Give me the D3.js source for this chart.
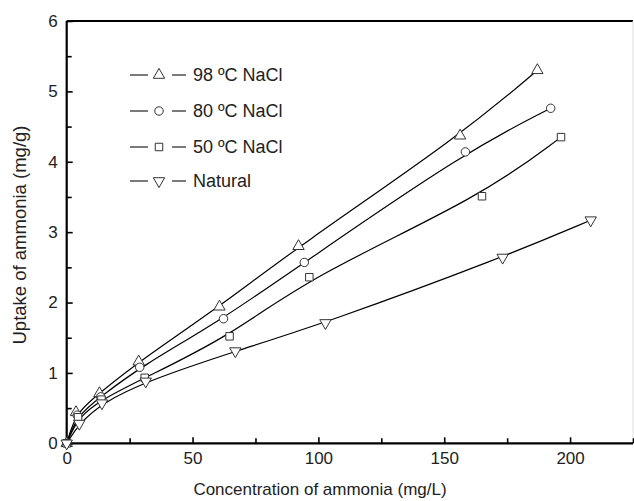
<!DOCTYPE html>
<html><head><meta charset="utf-8">
<script src="https://cdn.jsdelivr.net/npm/d3@7/dist/d3.min.js"></script>
<style>body{margin:0;background:#fff}svg{display:block}text{font-family:"Liberation Sans",Arial,sans-serif;fill:#222}</style>
</head><body><svg id="c" width="634" height="501"></svg>
<script>
const seriesNames = ["98 ºC NaCl","80 ºC NaCl","50 ºC NaCl","Natural"];
const seriesSymbols = ["triangle","circle","square","triangleDown"];
const s98 = [[0,0],[3.7,0.44],[13,0.71],[28.6,1.16],[60.7,1.94],[92.1,2.80],[156.3,4.37],[187,5.30]];
const s80 = [[0,0],[4.2,0.40],[13.5,0.66],[29,1.08],[62.3,1.77],[94.4,2.57],[158.4,4.14],[192.3,4.76]];
const s50 = [[0,0],[4.5,0.37],[13.8,0.62],[31,0.93],[64.7,1.52],[96.4,2.36],[165,3.51],[196.4,4.35]];
const sNat = [[0,0],[5,0.28],[14,0.57],[31.4,0.88],[67,1.31],[102.8,1.71],[173.2,2.64],[208.2,3.17]];
const xTickLabels = [0,50,100,150,200];
const yTickLabels = [0,1,2,3,4,5,6];
const xTitle = "Concentration of ammonia (mg/L)";
const yTitle = "Uptake of ammonia (mg/g)";

const allSeries = [s98,s80,s50,sNat];
const L=66.7,R=633,T=21,B=443.3;
const svg=d3.select("#c");
const x=d3.scaleLinear().domain([0,225]).range([L,R]);
const y=d3.scaleLinear().domain([0,6]).range([B,T]);

// frame
svg.append("line").attr("x1",L).attr("x2",R).attr("y1",T).attr("y2",T).attr("stroke","#000").attr("stroke-width",2);
svg.append("line").attr("x1",R).attr("x2",R).attr("y1",T).attr("y2",B).attr("stroke","#ddd").attr("stroke-width",1);

// axes with inward ticks
const xAxis=svg.append("g").attr("transform",`translate(0,${B})`)
  .call(d3.axisBottom(x).tickValues(d3.range(0,226,25)).tickSize(-6).tickPadding(9)
    .tickFormat(d=>xTickLabels.includes(d)?d:""));
const yAxis=svg.append("g").attr("transform",`translate(${L},0)`)
  .call(d3.axisLeft(y).tickValues(d3.range(0,6.01,0.5)).tickSize(-6).tickPadding(9)
    .tickFormat(d=>yTickLabels.includes(d)?d:""));
[xAxis,yAxis].forEach(g=>{
  g.select(".domain").attr("stroke","#000").attr("stroke-width",2.2);
  g.selectAll(".tick line").attr("stroke","#000").attr("stroke-width",1.6);
  g.selectAll(".tick text").attr("font-size",17).style("fill","#222").attr("font-family","Liberation Sans, Arial, sans-serif");
});
xAxis.selectAll(".tick").filter(d=>!xTickLabels.includes(d)).select("line").attr("y2",-5);
yAxis.selectAll(".tick").filter(d=>!yTickLabels.includes(d)).select("line").attr("x2",5);
xAxis.select(".domain").attr("d",`M${L},0H${R}`);
yAxis.select(".domain").attr("d",`M0,${T}V${B}`);

// titles
svg.append("text").attr("x",320).attr("y",495).attr("text-anchor","middle").attr("font-size",17).text(xTitle);
svg.append("text").attr("transform","translate(26,235) rotate(-90)").attr("text-anchor","middle").attr("font-size",18.5).text(yTitle);

// markers
const symMap={
  triangle:d3.symbol().type(d3.symbolTriangle).size(56),
  circle:d3.symbol().type(d3.symbolCircle).size(56),
  square:d3.symbol().type(d3.symbolSquare).size(56),
  triangleDown:d3.symbol().type(d3.symbolTriangle).size(56)
};
function marker(g,type,px,py){
  const p=g.append("path").attr("d",symMap[type]()).attr("fill","#fff").attr("stroke","#333").attr("stroke-width",1);
  if(type==="triangleDown") p.attr("transform",`translate(${px},${py}) rotate(180)`);
  else p.attr("transform",`translate(${px},${py})`);
}
const line=d3.line().x(d=>x(d[0])).y(d=>y(d[1])).curve(d3.curveBasis);
allSeries.forEach((s,i)=>{
  svg.append("path").attr("d",line(s)).attr("fill","none").attr("stroke","#000").attr("stroke-width",1.2);
});
allSeries.forEach((s,i)=>{
  const g=svg.append("g");
  s.forEach(d=>marker(g,seriesSymbols[i],x(d[0]),y(d[1])));
});

// legend
const legY=[75,111,147,181];
seriesNames.forEach((n,i)=>{
  const g=svg.append("g");
  g.append("line").attr("x1",130).attr("x2",148).attr("y1",legY[i]).attr("y2",legY[i]).attr("stroke","#222").attr("stroke-width",1.2);
  g.append("line").attr("x1",172).attr("x2",186).attr("y1",legY[i]).attr("y2",legY[i]).attr("stroke","#222").attr("stroke-width",1.2);
  marker(g,seriesSymbols[i],159,legY[i]);
  g.append("text").attr("x",193).attr("y",legY[i]).attr("dy","0.36em").attr("font-size",18).text(n);
});
</script></body></html>
